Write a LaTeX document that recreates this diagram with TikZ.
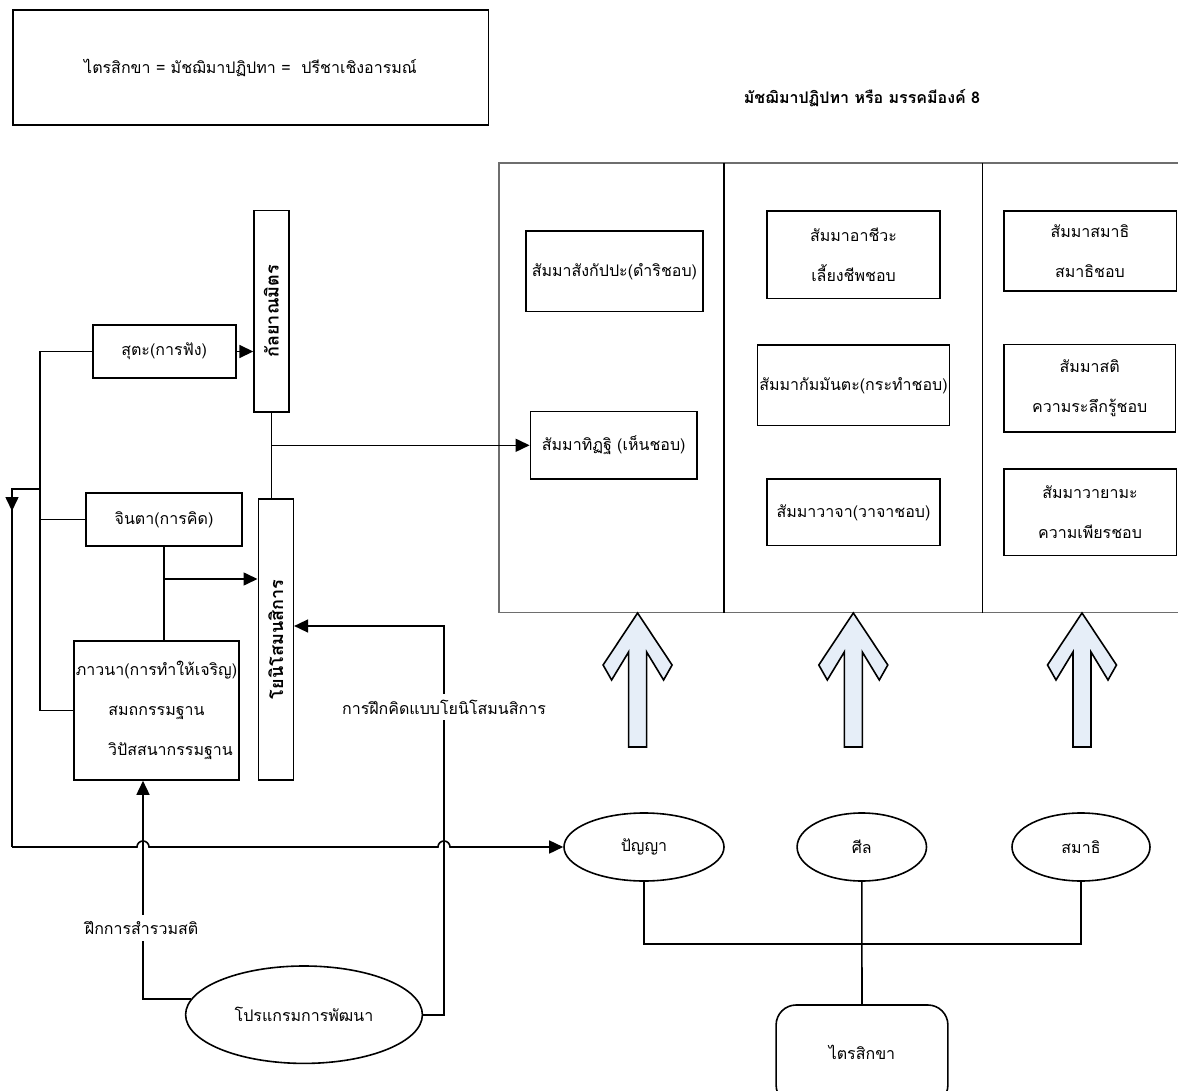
\documentclass[tikz,border=0pt]{standalone}
\usepackage{fontspec}
\setmainfont[Script=Thai]{Loma}
\usetikzlibrary{arrows.meta,shapes.geometric}
\definecolor{arrowfill}{HTML}{E6EEF8}
\definecolor{framegray}{HTML}{6E6E6E}

\begin{document}
\begin{tikzpicture}[x=0.5pt,y=0.5pt,line width=0.8pt,
	font=\fontsize{8}{10}\selectfont,
	box/.style={draw,inner sep=1pt},
	twoline/.style={box,align=center,font=\fontsize{8}{20}\selectfont},
	sidebar/.style={draw,rotate=90,inner sep=1pt,font=\fontsize{9}{10}\selectfont\bfseries},
	oval/.style={draw,ellipse,inner sep=0pt},
	arr/.style={-{Triangle[length=7pt,width=6.5pt]}}]
	\useasboundingbox (0,0) rectangle (1178,-1091);
	% heading
	\node[box,minimum width=237.8pt,minimum height=57.5pt] (eq) at (250.5,-67.5) {ไตรสิกขา = มัชฌิมาปฏิปทา = \ ปรีชาเชิงอารมณ์};
	\node[font=\fontsize{8}{10}\selectfont\bfseries] (title) at (862,-98) {มัชฌิมาปฏิปทา หรือ มรรคมีองค์ 8};
	% frame of the eightfold path
	\draw [framegray,line width=0.6pt] (1178,-163) -- (499,-163) -- (499,-612.7) -- (1178,-612.7);
	\draw (724,-163) -- (724,-612.7);
	\draw (982.5,-163) -- (982.5,-612.7);
	\node[box,minimum width=88.4pt,minimum height=40.4pt] (sankappa) at (614.4,-271.3) {สัมมาสังกัปปะ(ดำริชอบ)};
	\node[box,minimum width=83.3pt,minimum height=33.7pt] (ditthi) at (613.7,-445.3) {สัมมาทิฏฐิ (เห็นชอบ)};
	\node[twoline,minimum width=86.3pt,minimum height=43.7pt] (ajiva) at (853.5,-254.7) {สัมมาอาชีวะ\\เลี้ยงชีพชอบ};
	\node[box,minimum width=90.5pt,minimum height=40.3pt] (kammanta) at (853.5,-385.3) {สัมมากัมมันตะ(กระทำชอบ)};
	\node[box,minimum width=86.3pt,minimum height=33.3pt] (vaca) at (853.5,-512.3) {สัมมาวาจา(วาจาชอบ)};
	\node[twoline,minimum width=86.3pt,minimum height=40pt] (samadhi8) at (1090,-251) {สัมมาสมาธิ\\สมาธิชอบ};
	\node[twoline,minimum width=85.7pt,minimum height=43.7pt] (sati) at (1089.7,-388) {สัมมาสติ\\ความระลึกรู้ชอบ};
	\node[twoline,minimum width=86.3pt,minimum height=43.3pt] (vayama) at (1090,-512.3) {สัมมาวายามะ\\ความเพียรชอบ};
	% block arrows
	\foreach \x in {637.6,853.3,1082}
		\draw [fill=arrowfill] (\x,-613) -- ++(34.5,-52) -- ++(-8.5,-15) -- ++(-17,28) -- ++(0,-95)
			-- ++(-18,0) -- ++(0,95) -- ++(-17,-28) -- ++(-8.5,15) -- cycle;
	% the three trainings
	\node[oval,minimum width=80pt,minimum height=34pt] (panya) at (644,-847) {ปัญญา};
	\node[oval,minimum width=64.7pt,minimum height=34pt] (sila) at (861.8,-847) {ศีล};
	\node[oval,minimum width=69pt,minimum height=34pt] (samadhi) at (1081,-847) {สมาธิ};
	\node[draw,rounded corners=10pt,minimum width=85.9pt,minimum height=50pt] (trisikkha) at (862,-1055) {};
	\node (trisikkhatxt) at (862,-1052) {ไตรสิกขา};
	\coordinate (join) at (862,-944);
	\draw (panya.south) |- (join) -| (samadhi.south);
	\draw (sila.south) -- (trisikkha.north);
	% left side
	\node[box,minimum width=71.5pt,minimum height=26.5pt] (suta) at (164.2,-351.5) {สุตะ(การฟัง)};
	\node[sidebar,minimum width=100.5pt,minimum height=17.3pt] (kalyana) at (271.4,-311.2) {กัลยาณมิตร};
	\node[box,minimum width=78pt,minimum height=26.5pt] (cinta) at (164,-519.5) {จินตา(การคิด)};
	\node[box,align=center,font=\fontsize{8}{20}\selectfont,minimum width=75.5pt,minimum height=69.5pt] (bhavana) at (156.5,-710.5) {ภาวนา(การทำให้เจริญ)\\สมถกรรมฐาน\\\hspace*{14pt}วิปัสสนากรรมฐาน};
	\node[sidebar,minimum width=140.5pt,minimum height=17.5pt] (yoniso) at (275.8,-639.5) {โยนิโสมนสิการ};
	\node[oval,minimum width=118.4pt,minimum height=48.7pt] (prog) at (304,-1014.7) {โปรแกรมการพัฒนา};
	% rotated bars: north is their left side, south their right, west their foot, east their top
	\draw [arr] (suta.east) -- (suta.east -| kalyana.north);
	\draw (kalyana.west) -- (kalyana.west |- yoniso.east);
	\draw [arr] (kalyana.west |- ditthi.west) -- (ditthi.west);
	\draw (cinta.south) -- (cinta.south |- bhavana.north);
	\draw [arr] (164,-579) -- (yoniso.north |- 164,-579);
	\coordinate (spine) at (40,-489);
	\coordinate (back) at (12,-489);
	\coordinate (corner) at (12,-847);
	\coordinate (hopL) at (143,-847);
	\coordinate (hopR) at (444,-847);
	\draw (suta.west) -| (spine) -- (spine |- bhavana.west) -- (bhavana.west);
	\draw (spine |- cinta.west) -- (cinta.west);
	\draw [arr] (spine) -- (back) -- ++(0,-22);
	\draw (back) -- (corner);
	\draw [arr] (prog.172) -| (hopL) -- (hopL |- bhavana.south);
	\draw [arr] (prog.east) -| (hopR) -- (444,-626) -- (yoniso.south |- 444,-626);
	\draw [arr] (corner) -- (137,-847) arc[start angle=180,end angle=0,radius=6]
		-- (438,-847) arc[start angle=180,end angle=0,radius=6] -- (panya.west);
	\node[fill=white,inner sep=3pt] (lblsati) at (141.6,-928) {ฝึกการสำรวมสติ};
	\node[fill=white,inner sep=3pt] (lblyoni) at (444,-707) {การฝึกคิดแบบโยนิโสมนสิการ};
\end{tikzpicture}
\end{document}
